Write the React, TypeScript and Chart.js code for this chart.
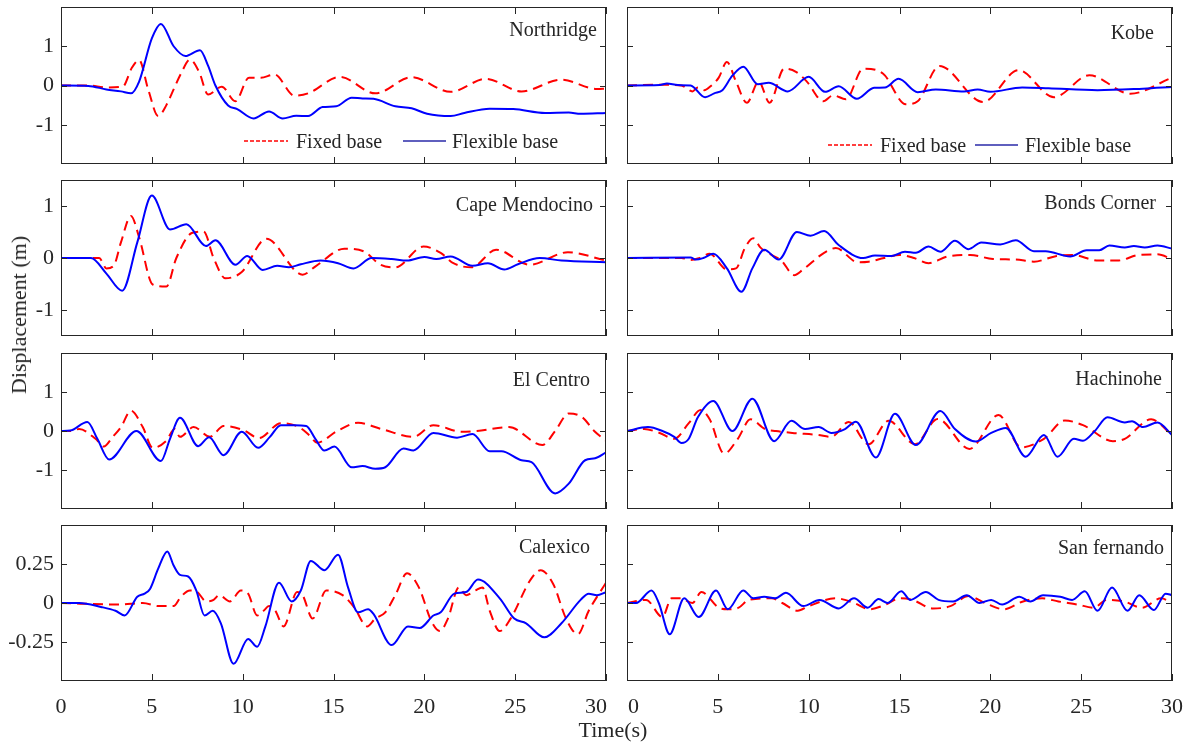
import React, { useEffect, useRef } from "react";
import { Chart, registerables } from "chart.js";
Chart.register(...registerables);

// ---------- data ----------
const timeTicks = [0, 5, 10, 15, 20, 25, 30];
const timeRange = [0, 30];
const dispTicksLarge = [-1, 0, 1];
const dispTicksSmall = [-0.25, 0, 0.25];
const rangeWide = [-2, 2];
const rangeMid = [-1.5, 1.5];
const rangeSmall = [-0.5, 0.5];
const seriesNames = ["Fixed base", "Flexible base"];

const northridgeFixed = [[0,0],[1.5,0],[2.5,-0.05],[3.4,-0.03],[3.9,0.45],[4.3,0.65],[4.8,-0.1],[5.35,-0.78],[5.8,-0.5],[6.2,-0.1],[6.6,0.3],[7.1,0.66],[7.6,0.35],[8.1,-0.23],[8.85,-0.03],[9.6,-0.4],[10.35,0.2],[11.0,0.2],[11.75,0.28],[12.85,-0.26],[13.6,-0.2],[15.35,0.22],[17.3,-0.2],[19.3,0.21],[21.45,-0.16],[23.4,0.17],[25.35,-0.15],[27.55,0.15],[29.5,-0.09],[30,-0.08]];
const northridgeFlexible = [[0,0],[1.5,-0.01],[2.5,-0.1],[3.3,-0.15],[3.85,-0.2],[4.3,0.1],[5.0,1.2],[5.5,1.57],[6.2,1.0],[6.85,0.75],[7.65,0.9],[8.1,0.5],[8.5,0],[9.2,-0.51],[9.7,-0.6],[10.6,-0.84],[11.45,-0.66],[12.2,-0.84],[12.95,-0.77],[13.6,-0.78],[14.4,-0.55],[15.15,-0.53],[16.0,-0.31],[16.6,-0.33],[17.2,-0.34],[18.4,-0.53],[19.3,-0.58],[20.15,-0.72],[21.45,-0.78],[22.2,-0.7],[23.6,-0.59],[24.9,-0.6],[26.65,-0.7],[27.95,-0.69],[28.6,-0.72],[30,-0.7]];

const kobeFixed = [[0,0],[2.0,0.02],[3.0,0],[3.6,-0.15],[3.9,-0.05],[4.25,-0.12],[4.6,-0.02],[5.05,0.2],[5.5,0.6],[6.0,0.1],[6.6,-0.44],[7.25,0.1],[7.85,-0.44],[8.65,0.43],[9.3,0.35],[9.9,0.1],[10.8,-0.4],[11.35,-0.25],[12.05,-0.35],[13.0,0.43],[14.1,0.3],[15.35,-0.48],[16.0,-0.4],[17.2,0.5],[19.6,-0.42],[21.55,0.39],[23.5,-0.3],[25.45,0.26],[27.7,-0.21],[30,0.2]];
const kobeFlexible = [[0,0],[1.8,0.01],[2.2,0.05],[2.8,0.01],[3.5,0],[4.3,-0.3],[4.8,-0.2],[5.25,-0.12],[5.8,0.25],[6.4,0.48],[7.2,0.03],[7.8,0.07],[8.85,-0.15],[10.0,0.22],[10.9,-0.16],[11.65,-0.02],[12.65,-0.34],[13.6,-0.06],[14.2,-0.05],[14.95,0.17],[16.0,-0.17],[17.0,-0.1],[18.55,-0.15],[19.3,-0.1],[20.0,-0.16],[21.75,-0.05],[23.2,-0.07],[25.9,-0.12],[28.4,-0.08],[30,-0.04]];

const capeMendocinoFixed = [[0,0],[2.1,0],[2.5,-0.2],[2.9,-0.15],[3.3,0.3],[3.85,0.81],[4.3,0.4],[5.05,-0.51],[5.8,-0.55],[6.35,0],[7.2,0.48],[7.85,0.51],[8.4,0],[9.05,-0.39],[9.95,-0.27],[11.3,0.37],[13.3,-0.32],[14.05,-0.15],[15.6,0.18],[16.65,0.13],[17.6,-0.13],[18.4,-0.18],[19.95,0.22],[20.9,0.1],[21.6,-0.1],[22.6,-0.18],[23.95,0.16],[25.8,-0.13],[27.9,0.11],[30,-0.05]];
const capeMendocinoFlexible = [[0,0],[1.65,0],[2.5,-0.3],[3.37,-0.63],[4.2,0.3],[5.0,1.2],[6.0,0.55],[6.9,0.65],[7.98,0.23],[8.5,0.34],[9.6,-0.13],[10.25,0.04],[11.1,-0.23],[11.9,-0.15],[12.55,-0.18],[13.2,-0.12],[14.3,-0.05],[15.25,-0.1],[16.1,-0.2],[17.1,0.0],[18.2,-0.02],[19.05,-0.05],[20.0,0.02],[20.65,-0.02],[21.45,0.03],[22.65,-0.15],[23.5,-0.1],[24.4,-0.22],[25.15,-0.12],[26.35,0.0],[27.55,-0.05],[30,-0.08]];

const bondsCornerFixed = [[0,0],[3.0,0],[3.5,-0.04],[4.0,0],[4.55,0.08],[5.5,-0.22],[6.0,-0.2],[6.5,0.2],[6.95,0.38],[7.35,0.2],[8.0,0.05],[8.5,-0.05],[9.2,-0.33],[9.7,-0.22],[10.85,0.1],[11.5,0.19],[12.7,-0.08],[13.3,-0.07],[14.15,0.0],[15.0,0.06],[15.8,0.0],[16.6,-0.1],[17.65,0.03],[18.9,0.06],[20.15,-0.02],[21.4,-0.03],[22.4,-0.07],[23.65,0.04],[24.5,0.06],[25.95,-0.05],[27.0,-0.05],[28.2,0.06],[29.2,0.07],[30,-0.02]];
const bondsCornerFlexible = [[0,0],[3.5,0.01],[3.8,-0.03],[4.2,0],[4.75,0.08],[5.5,-0.2],[6.3,-0.65],[6.9,-0.2],[7.55,0.16],[8.35,-0.03],[9.35,0.5],[10.1,0.43],[10.85,0.52],[11.65,0.25],[13.0,0.0],[13.65,0.05],[14.55,0.04],[15.3,0.12],[15.9,0.1],[16.6,0.22],[17.25,0.12],[18.05,0.33],[18.8,0.17],[19.5,0.3],[20.55,0.26],[21.4,0.34],[22.4,0.13],[23.05,0.13],[24.4,0.03],[25.3,0.15],[26.0,0.15],[26.55,0.24],[27.4,0.2],[27.9,0.23],[28.5,0.2],[29.2,0.24],[30,0.18]];

const elCentroFixed = [[0,0],[0.5,0],[1.0,0.05],[1.9,-0.2],[2.35,-0.4],[2.85,-0.15],[3.3,0.1],[3.85,0.52],[4.5,0.1],[5.05,-0.43],[5.8,-0.25],[6.25,0.05],[6.55,-0.15],[7.3,0.1],[8.2,-0.15],[8.95,0.13],[10.05,0.02],[10.9,-0.18],[12.1,0.2],[13.1,0.1],[13.65,-0.1],[14.1,-0.3],[15.2,0.0],[16.35,0.21],[17.65,0.05],[19.4,-0.15],[20.5,0.15],[22.05,-0.02],[22.9,0.0],[24.65,0.1],[26.5,-0.36],[27.2,0.0],[27.95,0.45],[28.7,0.35],[29.35,0.0],[30,-0.25]];
const elCentroFlexible = [[0,0],[0.5,0.01],[1.45,0.23],[2.0,-0.2],[2.65,-0.73],[4.15,0.0],[5.5,-0.77],[6.0,-0.2],[6.55,0.34],[7.55,-0.39],[8.15,-0.16],[8.95,-0.62],[9.95,-0.02],[10.85,-0.43],[11.5,-0.15],[12.1,0.15],[12.85,0.15],[13.5,0.13],[14.0,-0.2],[14.5,-0.5],[15.05,-0.4],[16.0,-0.93],[16.6,-0.9],[17.3,-0.97],[17.85,-0.93],[18.85,-0.45],[19.4,-0.5],[20.5,-0.05],[21.8,-0.17],[22.65,-0.08],[23.6,-0.52],[24.25,-0.52],[25.35,-0.75],[25.9,-0.8],[27.2,-1.6],[27.95,-1.35],[28.85,-0.75],[29.4,-0.7],[30,-0.55]];

const hachinoheFixed = [[0,0],[0.95,0.05],[1.8,-0.05],[2.6,-0.2],[3.4,0.2],[4.05,0.54],[4.55,0.3],[5.35,-0.58],[6.1,-0.2],[6.8,0.3],[7.6,0.05],[8.2,0.0],[9.1,-0.05],[10.5,-0.1],[11.25,-0.15],[12.2,0.23],[13.3,-0.34],[14.4,0.26],[15.85,-0.34],[17.1,0.31],[18.85,-0.46],[20.45,0.41],[21.7,-0.42],[22.95,-0.2],[24.1,0.27],[25.1,0.15],[26.75,-0.26],[27.4,-0.2],[28.85,0.3],[30,-0.1]];
const hachinoheFlexible = [[0,0],[1.15,0.1],[1.95,0.0],[2.6,-0.15],[3.0,-0.31],[3.4,-0.2],[3.9,0.35],[4.75,0.77],[5.8,0.0],[6.9,0.83],[8.1,-0.26],[9.05,0.26],[9.8,0.05],[10.55,0.1],[11.25,-0.05],[12.0,0.05],[12.6,0.24],[13.7,-0.68],[14.75,0.44],[15.9,-0.36],[17.25,0.51],[18.05,0.05],[19.2,-0.27],[20.05,-0.05],[20.85,0.08],[21.95,-0.66],[22.95,-0.1],[23.7,-0.66],[24.6,-0.2],[25.1,-0.25],[25.75,0.0],[26.45,0.35],[27.4,0.22],[27.8,0.25],[28.4,0.1],[29.2,0.22],[30,-0.1]];

const calexicoFixed = [[0,0],[3.2,-0.01],[4.5,0.0],[5.4,-0.02],[6.2,-0.02],[6.6,0.04],[7.1,0.08],[7.5,0.07],[8.0,0.01],[8.4,0.02],[8.7,0.05],[9.3,0.01],[9.9,0.08],[10.3,0.06],[10.8,-0.08],[11.15,-0.05],[11.45,-0.02],[11.8,-0.05],[12.25,-0.15],[13.0,0.07],[13.3,0.05],[13.85,-0.1],[14.6,0.08],[15.5,0.05],[16.15,-0.03],[16.85,-0.15],[17.3,-0.1],[17.85,-0.06],[18.4,0.05],[19.05,0.19],[19.7,0.1],[20.4,-0.12],[20.85,-0.18],[21.3,-0.1],[21.9,0.1],[22.3,0.05],[22.8,0.08],[23.2,0.1],[23.6,-0.05],[24.15,-0.18],[24.75,-0.1],[25.85,0.15],[26.4,0.21],[27.1,0.12],[27.8,-0.1],[28.45,-0.2],[29.05,-0.05],[30,0.13]];
const calexicoFlexible = [[0,0],[1.0,0.0],[2.2,-0.025],[3.0,-0.05],[3.5,-0.08],[4.2,0.04],[4.6,0.06],[4.9,0.09],[5.35,0.22],[5.85,0.33],[6.2,0.24],[6.55,0.18],[7.0,0.17],[7.45,0.08],[7.9,-0.08],[8.35,-0.05],[8.8,-0.13],[9.5,-0.39],[10.3,-0.23],[10.8,-0.28],[11.25,-0.15],[12.0,0.13],[12.7,0.01],[13.2,0.08],[13.75,0.27],[14.5,0.21],[15.25,0.31],[15.8,0.1],[16.35,-0.06],[16.9,-0.04],[17.2,-0.07],[18.2,-0.27],[19.1,-0.15],[19.75,-0.16],[20.5,-0.08],[20.9,-0.06],[21.65,0.06],[22.3,0.07],[22.95,0.15],[24.15,0.03],[24.95,-0.1],[25.6,-0.13],[26.6,-0.22],[27.55,-0.13],[28.6,0.02],[29.05,0.06],[29.5,0.05],[30,0.07]];

const sanFernandoFixed = [[0,0],[1.05,0.02],[1.95,-0.09],[2.45,0.03],[2.95,0.03],[3.6,0.0],[4.1,0.07],[5.05,-0.03],[5.55,-0.04],[6.15,-0.03],[6.7,0.02],[7.95,0.03],[8.55,0.0],[9.4,-0.05],[10.0,-0.02],[11.5,0.03],[12.5,0.0],[13.35,-0.04],[14.25,-0.01],[15.0,0.03],[15.7,0.02],[16.85,-0.035],[17.8,-0.02],[18.8,0.045],[19.7,0.0],[20.75,-0.04],[21.8,0.01],[22.85,0.03],[23.75,0.01],[24.8,-0.01],[25.7,-0.03],[26.4,0.02],[27.35,0.01],[28.35,-0.03],[29.4,0.03],[30,0.0]];
const sanFernandoFlexible = [[0,0],[0.5,0.0],[1.35,0.08],[1.75,0.0],[2.35,-0.2],[3.15,0.03],[3.95,-0.09],[4.9,0.08],[5.55,-0.04],[6.4,0.08],[6.95,0.03],[7.55,0.04],[8.15,0.03],[8.75,0.065],[9.7,-0.02],[10.6,0.02],[11.65,-0.035],[12.5,0.03],[13.25,-0.03],[13.85,0.025],[14.35,0.0],[15.1,0.075],[15.6,0.02],[16.45,0.07],[17.15,0.02],[17.95,0.01],[18.7,0.05],[19.4,0.0],[20.05,0.02],[20.65,-0.01],[21.6,0.04],[22.2,0.01],[22.9,0.05],[23.85,0.04],[24.5,0.02],[25.2,0.075],[25.9,-0.05],[26.7,0.1],[27.55,-0.05],[28.2,0.05],[29.0,-0.045],[29.65,0.06],[30,0.05]];

// ---------- layout / style ----------
const FONT = "'Times New Roman', 'Liberation Serif', 'DejaVu Serif', serif";
const INK = "#262626";
const COLS = [[61, 606], [627, 1172]];
const ROWS = [[7, 164], [180, 336], [353, 509], [525, 681]];

type Legend = { red: number; text1: number; blue: number; text2: number; y: number };
type PanelSpec = {
  name: string; fixed: number[][]; flexible: number[][]; range: number[]; yTicks: number[];
  col: number; row: number; titleRight: number; titleDy: number; legend?: Legend;
};

const panels: PanelSpec[] = [
  { name: "Northridge", fixed: northridgeFixed, flexible: northridgeFlexible, range: rangeWide, yTicks: dispTicksLarge, col: 0, row: 0, titleRight: 9, titleDy: 24, legend: { red: 183, text1: 235, blue: 342, text2: 391, y: 134 } },
  { name: "Kobe", fixed: kobeFixed, flexible: kobeFlexible, range: rangeWide, yTicks: dispTicksLarge, col: 1, row: 0, titleRight: 18, titleDy: 27, legend: { red: 201, text1: 253, blue: 348, text2: 398, y: 138 } },
  { name: "Cape Mendocino", fixed: capeMendocinoFixed, flexible: capeMendocinoFlexible, range: rangeMid, yTicks: dispTicksLarge, col: 0, row: 1, titleRight: 13, titleDy: 26 },
  { name: "Bonds Corner", fixed: bondsCornerFixed, flexible: bondsCornerFlexible, range: rangeMid, yTicks: dispTicksLarge, col: 1, row: 1, titleRight: 16, titleDy: 24 },
  { name: "El Centro", fixed: elCentroFixed, flexible: elCentroFlexible, range: rangeWide, yTicks: dispTicksLarge, col: 0, row: 2, titleRight: 16, titleDy: 28 },
  { name: "Hachinohe", fixed: hachinoheFixed, flexible: hachinoheFlexible, range: rangeWide, yTicks: dispTicksLarge, col: 1, row: 2, titleRight: 10, titleDy: 27 },
  { name: "Calexico", fixed: calexicoFixed, flexible: calexicoFlexible, range: rangeSmall, yTicks: dispTicksSmall, col: 0, row: 3, titleRight: 16, titleDy: 23 },
  { name: "San fernando", fixed: sanFernandoFixed, flexible: sanFernandoFlexible, range: rangeSmall, yTicks: dispTicksSmall, col: 1, row: 3, titleRight: 8, titleDy: 24 },
];

function Panel({ spec }: { spec: PanelSpec }) {
  const ref = useRef<HTMLCanvasElement | null>(null);
  const [x0, x1] = COLS[spec.col];
  const [y0, y1] = ROWS[spec.row];
  const ML = spec.col === 0 ? 61 : 20;
  const MT = 7;
  const MR = 16;
  const isBottom = spec.row === 3;
  const MB = isBottom ? 60 : 8;
  const W = x1 - x0 + ML + MR;
  const H = y1 - y0 + MT + MB;

  useEffect(() => {
    const canvas = ref.current;
    if (!canvas) return;
    const framePlugin = {
      id: "frame",
      afterDatasetsDraw(chart: any) {
        const { ctx, chartArea: a, scales } = chart;
        const xs = scales.x, ys = scales.y;
        ctx.save();
        ctx.strokeStyle = INK;
        ctx.lineWidth = 1;
        ctx.setLineDash([]);
        ctx.strokeRect(a.left + 0.5, a.top + 0.5, a.right - a.left - 1, a.bottom - a.top - 1);
        ctx.beginPath();
        for (const v of timeTicks) {
          const px = Math.round(xs.getPixelForValue(v)) + 0.5;
          ctx.moveTo(px, a.bottom); ctx.lineTo(px, a.bottom - 7);
          ctx.moveTo(px, a.top); ctx.lineTo(px, a.top + 7);
        }
        for (const v of spec.yTicks) {
          const py = Math.round(ys.getPixelForValue(v)) + 0.5;
          ctx.moveTo(a.left, py); ctx.lineTo(a.left + 6, py);
          ctx.moveTo(a.right, py); ctx.lineTo(a.right - 6, py);
        }
        ctx.stroke();

        ctx.fillStyle = INK;
        if (isBottom) {
          ctx.font = `22px ${FONT}`;
          ctx.textBaseline = "alphabetic";
          for (const v of timeTicks) {
            const px = xs.getPixelForValue(v);
            let align: CanvasTextAlign = "center";
            let dx = 0;
            if (spec.col === 0 && v === timeRange[1]) { align = "right"; dx = 1; }
            if (spec.col === 1 && v === timeRange[0]) { align = "left"; dx = 1; }
            ctx.textAlign = align;
            ctx.fillText(String(v), px + dx, a.bottom + 32);
          }
        }
        // panel title
        ctx.font = `20px ${FONT}`;
        ctx.textAlign = "right";
        ctx.textBaseline = "middle";
        ctx.fillText(spec.name, a.right - spec.titleRight, a.top + spec.titleDy);
        // legend
        if (spec.legend) {
          const L = spec.legend;
          ctx.lineWidth = 1.5;
          ctx.strokeStyle = "#ff0000";
          ctx.setLineDash([4, 2]);
          ctx.beginPath();
          ctx.moveTo(a.left + L.red, a.top + L.y);
          ctx.lineTo(a.left + L.red + 44, a.top + L.y);
          ctx.stroke();
          ctx.setLineDash([]);
          ctx.strokeStyle = "#2a2aa8";
          ctx.beginPath();
          ctx.moveTo(a.left + L.blue, a.top + L.y);
          ctx.lineTo(a.left + L.blue + 43, a.top + L.y);
          ctx.stroke();
          ctx.textAlign = "left";
          ctx.fillText(seriesNames[0], a.left + L.text1, a.top + L.y + 2);
          ctx.fillText(seriesNames[1], a.left + L.text2, a.top + L.y + 2);
        }
        ctx.restore();
      },
    };

    const chart = new Chart(canvas, {
      type: "line",
      data: {
        datasets: [
          {
            label: seriesNames[1],
            data: spec.flexible.map(([x, y]) => ({ x, y })),
            borderColor: "#0000ff",
            borderWidth: 2,
            pointRadius: 0,
            fill: false,
            cubicInterpolationMode: "monotone",
          },
          {
            label: seriesNames[0],
            data: spec.fixed.map(([x, y]) => ({ x, y })),
            borderColor: "#ff0000",
            borderWidth: 2,
            borderDash: [10, 6],
            pointRadius: 0,
            fill: false,
            cubicInterpolationMode: "monotone",
          },
        ],
      },
      options: {
        responsive: false,
        animation: false,
        events: [],
        layout: { padding: { left: 0, top: MT, right: MR, bottom: 0 } },
        plugins: { legend: { display: false }, tooltip: { enabled: false } },
        scales: {
          x: {
            type: "linear",
            min: timeRange[0],
            max: timeRange[1],
            grid: { display: false, drawTicks: false },
            border: { display: false },
            ticks: { display: false },
            afterBuildTicks: (s: any) => { s.ticks = timeTicks.map((v) => ({ value: v })); },
            afterFit: (s: any) => { s.height = MB; s.paddingLeft = 0; s.paddingRight = 0; },
          },
          y: {
            type: "linear",
            min: spec.range[0],
            max: spec.range[1],
            grid: { display: false, drawTicks: false },
            border: { display: false },
            ticks: {
              display: spec.col === 0,
              padding: 7,
              color: INK,
              font: { family: FONT, size: 22 },
              callback: (v: any) => String(v),
            },
            afterBuildTicks: (s: any) => { s.ticks = spec.yTicks.map((v) => ({ value: v })); },
            afterFit: (s: any) => { s.width = ML; s.paddingTop = 0; s.paddingBottom = 0; },
          },
        },
      } as any,
      plugins: [framePlugin],
    });
    return () => chart.destroy();
  }, []);

  return (
    <canvas
      ref={ref}
      width={W}
      height={H}
      style={{ position: "absolute", left: x0 - ML, top: y0 - MT, width: W, height: H }}
    />
  );
}

export default function App() {
  return (
    <div style={{ position: "absolute", left: 0, top: 0, width: 1188, height: 746, overflow: "hidden", background: "#fff" }}>
      {panels.map((p) => (
        <Panel key={p.name} spec={p} />
      ))}
      <div
        style={{
          position: "absolute", left: 19, top: 315, transform: "translate(-50%, -50%) rotate(-90deg)",
          whiteSpace: "nowrap", font: `22px ${FONT}`, lineHeight: "22px", color: INK,
        }}
      >
        Displacement (m)
      </div>
      <div
        style={{
          position: "absolute", left: 613, top: 719, transform: "translate(-50%, 0)",
          whiteSpace: "nowrap", font: `22px ${FONT}`, lineHeight: "22px", color: INK,
        }}
      >
        Time(s)
      </div>
    </div>
  );
}
